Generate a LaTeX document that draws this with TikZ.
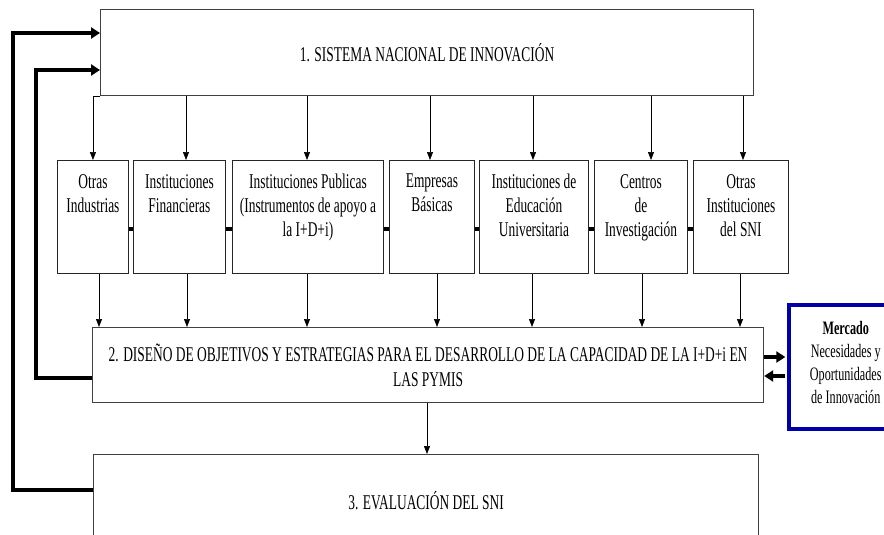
\documentclass[tikz,border=0pt]{standalone}
\usepackage{fontspec}
\setmainfont{Liberation Serif}[FakeStretch=0.64]
\usetikzlibrary{arrows.meta,calc}
\definecolor{mblue}{RGB}{0,0,170}
\begin{document}
\begin{tikzpicture}[x=1pt,y=-1pt,
  bigbox/.style={draw=black!75, line width=1.2pt, inner sep=0pt, anchor=north west, font=\fontsize{21}{25}\selectfont, align=center},
  sbox/.style={draw=black!85, line width=0.9pt, inner sep=0pt, anchor=north west},
  stxt/.style={font=\fontsize{21}{24}\selectfont, align=center, inner sep=0pt, anchor=north},
  arr/.style={-{Triangle[length=8pt,width=6pt]}, line width=0.7pt},
  fb/.style={line width=3.5pt, line join=miter, -{Triangle[length=9pt,width=11pt]}},
  link/.style={line width=3.5pt},
]
\useasboundingbox (0,0) rectangle (884,535);
\clip (0,0) rectangle (884,535);
\fill[white] (0,0) rectangle (884,535);

% top box
\node[bigbox, minimum width=653pt, minimum height=86pt] (sni) at (100,9) {\raisebox{-3pt}{1. SISTEMA NACIONAL DE INNOVACIÓN}};

% small boxes
\node[sbox, minimum width=71pt,  minimum height=113pt] (b1) at (57,160) {};
\node[sbox, minimum width=92pt,  minimum height=113pt] (b2) at (133,160) {};
\node[sbox, minimum width=151pt, minimum height=113pt] (b3) at (232,160) {};
\node[sbox, minimum width=85pt,  minimum height=113pt] (b4) at (389,160) {};
\node[sbox, minimum width=109pt, minimum height=113pt] (b5) at (479,160) {};
\node[sbox, minimum width=93pt,  minimum height=113pt] (b6) at (594,160) {};
\node[sbox, minimum width=95pt,  minimum height=113pt] (b7) at (693,160) {};

\node[stxt] (t1) at ([yshift=-14pt]b1.north) {Otras\\Industrias};
\node[stxt] (t2) at ([yshift=-14pt]b2.north) {Instituciones\\Financieras};
\node[stxt] (t3) at ([yshift=-14pt]b3.north) {Instituciones Publicas\\(Instrumentos de apoyo a\\la I+D+i)};
\node[stxt] (t4) at ([yshift=-14pt]b4.north) {Empresas\\Básicas};
\node[stxt] (t5) at ([yshift=-14pt]b5.north) {Instituciones de\\Educación\\Universitaria};
\node[stxt] (t6) at ([yshift=-14pt]b6.north) {Centros\\de\\Investigación};
\node[stxt] (t7) at ([yshift=-14pt]b7.north) {Otras\\Instituciones\\del SNI};

% box 2
\node[bigbox, minimum width=671pt, minimum height=75pt] (dis) at (92,327)
  {2. DISEÑO DE OBJETIVOS Y ESTRATEGIAS PARA EL DESARROLLO DE LA CAPACIDAD DE LA I+D+i EN\\LAS PYMIS};

% box 3
\node[bigbox, minimum width=665pt, minimum height=92pt] (eva) at (93,454) {3. EVALUACIÓN DEL SNI};

% mercado
\node[draw=mblue, line width=3.5pt, inner sep=0pt, anchor=north west, minimum width=114pt, minimum height=124pt] (mer) at (787,303) {};
\node[font=\fontsize{19}{23}\selectfont, align=center, inner sep=0pt] (mt) at ([yshift=4pt]mer.center)
  {\textbf{Mercado}\\Necesidades y\\Oportunidades\\de Innovación};

% arrows from top box
\draw[arr] (sni.south west) -| (b1.north);
\draw[arr] (sni.south -| 186,0) -- (b2.north -| 186,0);
\draw[arr] (sni.south -| 307,0) -- (b3.north -| 307,0);
\draw[arr] (sni.south -| 430,0) -- (b4.north -| 430,0);
\draw[arr] (sni.south -| 533,0) -- (b5.north -| 533,0);
\draw[arr] (sni.south -| 651,0) -- (b6.north -| 651,0);
\draw[arr] (sni.south -| 743,0) -- (b7.north -| 743,0);

% arrows to box 2
\draw[arr] (b1.south -| 99,0)  -- (dis.north -| 99,0);
\draw[arr] (b2.south -| 187,0) -- (dis.north -| 187,0);
\draw[arr] (b3.south -| 307,0) -- (dis.north -| 307,0);
\draw[arr] (b4.south -| 437,0) -- (dis.north -| 437,0);
\draw[arr] (b5.south -| 532,0) -- (dis.north -| 532,0);
\draw[arr] (b6.south -| 642,0) -- (dis.north -| 642,0);
\draw[arr] (b7.south -| 740,0) -- (dis.north -| 740,0);

% box2 -> box3
\draw[arr] (dis.south -| 427,0) -- (eva.north -| 427,0);

% links between small boxes
\draw[link] (b1.east |- 0,229) -- (b2.west |- 0,229);
\draw[link] (b2.east |- 0,229) -- (b3.west |- 0,229);
\draw[link] (b3.east |- 0,229) -- (b4.west |- 0,229);
\draw[link] (b4.east |- 0,229) -- (b5.west |- 0,229);
\draw[link] (b5.east |- 0,229) -- (b6.west |- 0,229);
\draw[link] (b6.east |- 0,229) -- (b7.west |- 0,229);

% feedback
\draw[fb] (eva.west |- 0,490) -- (13,490) -- (13,33) -- (sni.west |- 0,33);
\draw[fb] (dis.west |- 0,378) -- (36,378) -- (36,70) -- (sni.west |- 0,70);

% mercado arrows
\draw[fb] (dis.east |- 0,357) -- ([xshift=-1.7pt]mer.west |- 0,357);
\draw[fb] ([xshift=-1.7pt]mer.west |- 0,376) -- (dis.east |- 0,376);
\end{tikzpicture}
\end{document}
